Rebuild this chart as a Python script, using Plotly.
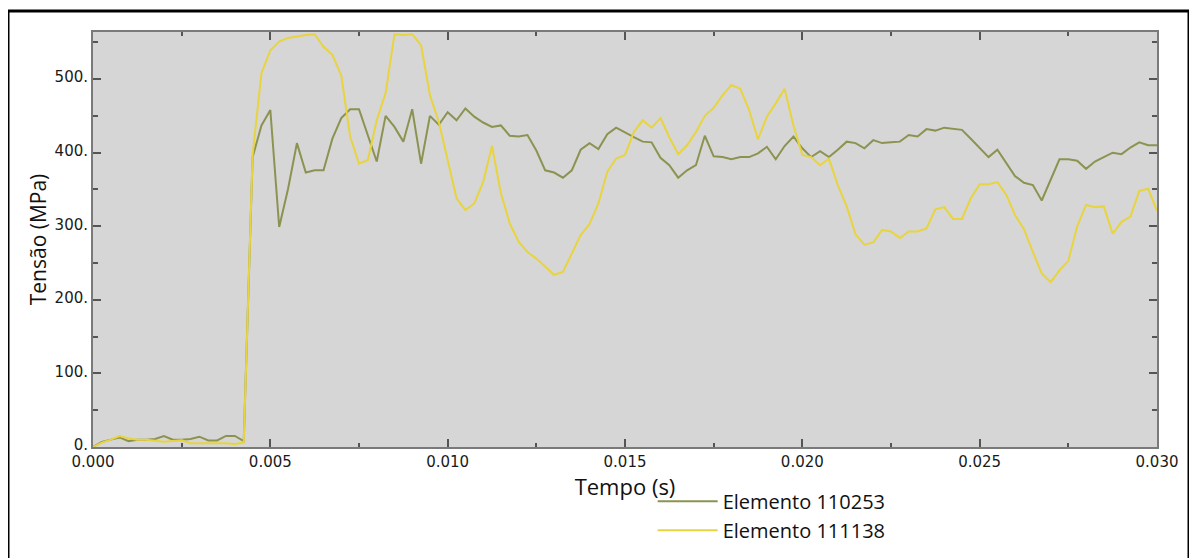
import plotly.graph_objects as go

# ---------------- data ----------------
time_step = 0.00025
time_s = [round(k * time_step, 5) for k in range(121)]

elemento_110253 = [
    0, 7, 10, 13, 8, 10, 10, 11, 15, 10,
    10, 11, 14, 9, 9, 15, 15, 8, 394, 437,
    458, 299, 351, 413, 373, 376, 376, 419, 447, 459,
    459, 424, 388, 450, 435, 415, 459, 385, 450, 438,
    455, 444, 460, 449, 441, 435, 437, 423, 422, 424,
    403, 376, 373, 366, 376, 404, 413, 405, 425, 434,
    427, 421, 415, 414, 393, 383, 366, 376, 383, 423,
    395, 394, 391, 394, 394, 399, 408, 391, 409, 422,
    406, 394, 402, 394, 404, 415, 413, 406, 417, 413,
    414, 415, 424, 422, 432, 430, 434, 432, 431, 419,
    407, 394, 404, 386, 368, 359, 356, 335, 363, 391,
    391, 389, 378, 388, 394, 400, 398, 407, 414, 410,
    410,
]

elemento_111138 = [
    0, 6, 10, 15, 12, 10, 10, 8, 7, 8,
    9, 5, 5, 5, 6, 5, 4, 6, 397, 508,
    539, 551, 556, 558, 560, 561, 544, 533, 505, 422,
    385, 390, 444, 481, 561, 560, 561, 546, 478, 442,
    392, 338, 322, 331, 360, 409, 345, 304, 279, 265,
    256, 245, 234, 238, 263, 288, 303, 331, 374, 392,
    397, 428, 444, 434, 447, 421, 398, 410, 428, 450,
    461, 478, 492, 487, 458, 418, 449, 467, 487, 437,
    397, 394, 383, 392, 356, 327, 289, 275, 278, 295,
    293, 284, 293, 293, 297, 323, 326, 310, 310, 338,
    357, 357, 360, 343, 315, 296, 265, 236, 224, 240,
    253, 300, 329, 326, 327, 290, 306, 313, 348, 351,
    321,
]

series_names = ["Elemento 110253", "Elemento 111138"]
series_colors = ["#8c9350", "#e8d43e"]

x_tick_vals = [0.000, 0.005, 0.010, 0.015, 0.020, 0.025, 0.030]
x_tick_text = ["0.000", "0.005", "0.010", "0.015", "0.020", "0.025", "0.030"]
y_tick_vals = [0, 100, 200, 300, 400, 500]
y_tick_text = ["0.", "100.", "200.", "300.", "400.", "500."]

x_title = "Tempo (s)"
y_title = "Tensão (MPa)"

# ---------------- figure ----------------
fig = go.Figure()
for name, vals, col, grp in zip(series_names, [elemento_110253, elemento_111138],
                                series_colors, ["g1", "g2"]):
    fig.add_trace(go.Scatter(
        x=time_s, y=vals, mode="lines", name=name, legendgroup=grp,
        line=dict(color=col, width=2),
    ))

axis_common = dict(
    showline=True, linecolor="#7a7a7a", linewidth=2, mirror="ticks",
    ticks="inside", ticklen=8, tickwidth=1.5, tickcolor="#555555",
    showgrid=False, zeroline=False, automargin=False,
    tickfont=dict(family="DejaVu Sans", size=15, color="#1a1a1a"),
)

# plot area 1064 x 415 px (page body adds ~8px offset)
fig.update_layout(
    width=1197, height=558,
    margin=dict(l=85, r=48, t=24, b=119, autoexpand=False),
    paper_bgcolor="white",
    plot_bgcolor="#d6d6d6",
    font=dict(family="Open Sans", color="#111111"),
    xaxis=dict(
        range=[0, 0.030], tickvals=x_tick_vals, ticktext=x_tick_text,
        minor=dict(ticks="inside", ticklen=4, tickcolor="#555555", dtick=0.0025, tick0=0),
        title=dict(text=x_title, font=dict(family="Open Sans", size=22, color="#111111"), standoff=1),
        **axis_common,
    ),
    yaxis=dict(
        range=[0, 564], tickvals=y_tick_vals, ticktext=y_tick_text,
        minor=dict(ticks="inside", ticklen=5, tickcolor="#555555", dtick=50, tick0=0),
        title=dict(text=y_title, font=dict(family="Open Sans", size=21, color="#111111"), standoff=2),
        ticklabelshift=-2,
        **axis_common,
    ),
    showlegend=True,
    legend=dict(
        x=0.526, y=-0.084, xanchor="left", yanchor="top",
        bgcolor="rgba(0,0,0,0)", borderwidth=0,
        font=dict(family="Open Sans", size=20, color="#111111"),
        traceorder="grouped", tracegroupgap=0, itemwidth=60,
    ),
    shapes=[dict(
        type="rect", xref="paper", yref="paper",
        x0=(8 - 93) / 1064, x1=(1189 - 93) / 1064,
        y0=(447 - 575) / 415, y1=(447 - 11) / 415,
        line=dict(color="black", width=3), fillcolor="rgba(0,0,0,0)", layer="above",
    )],
)

fig.write_html("out.html")
